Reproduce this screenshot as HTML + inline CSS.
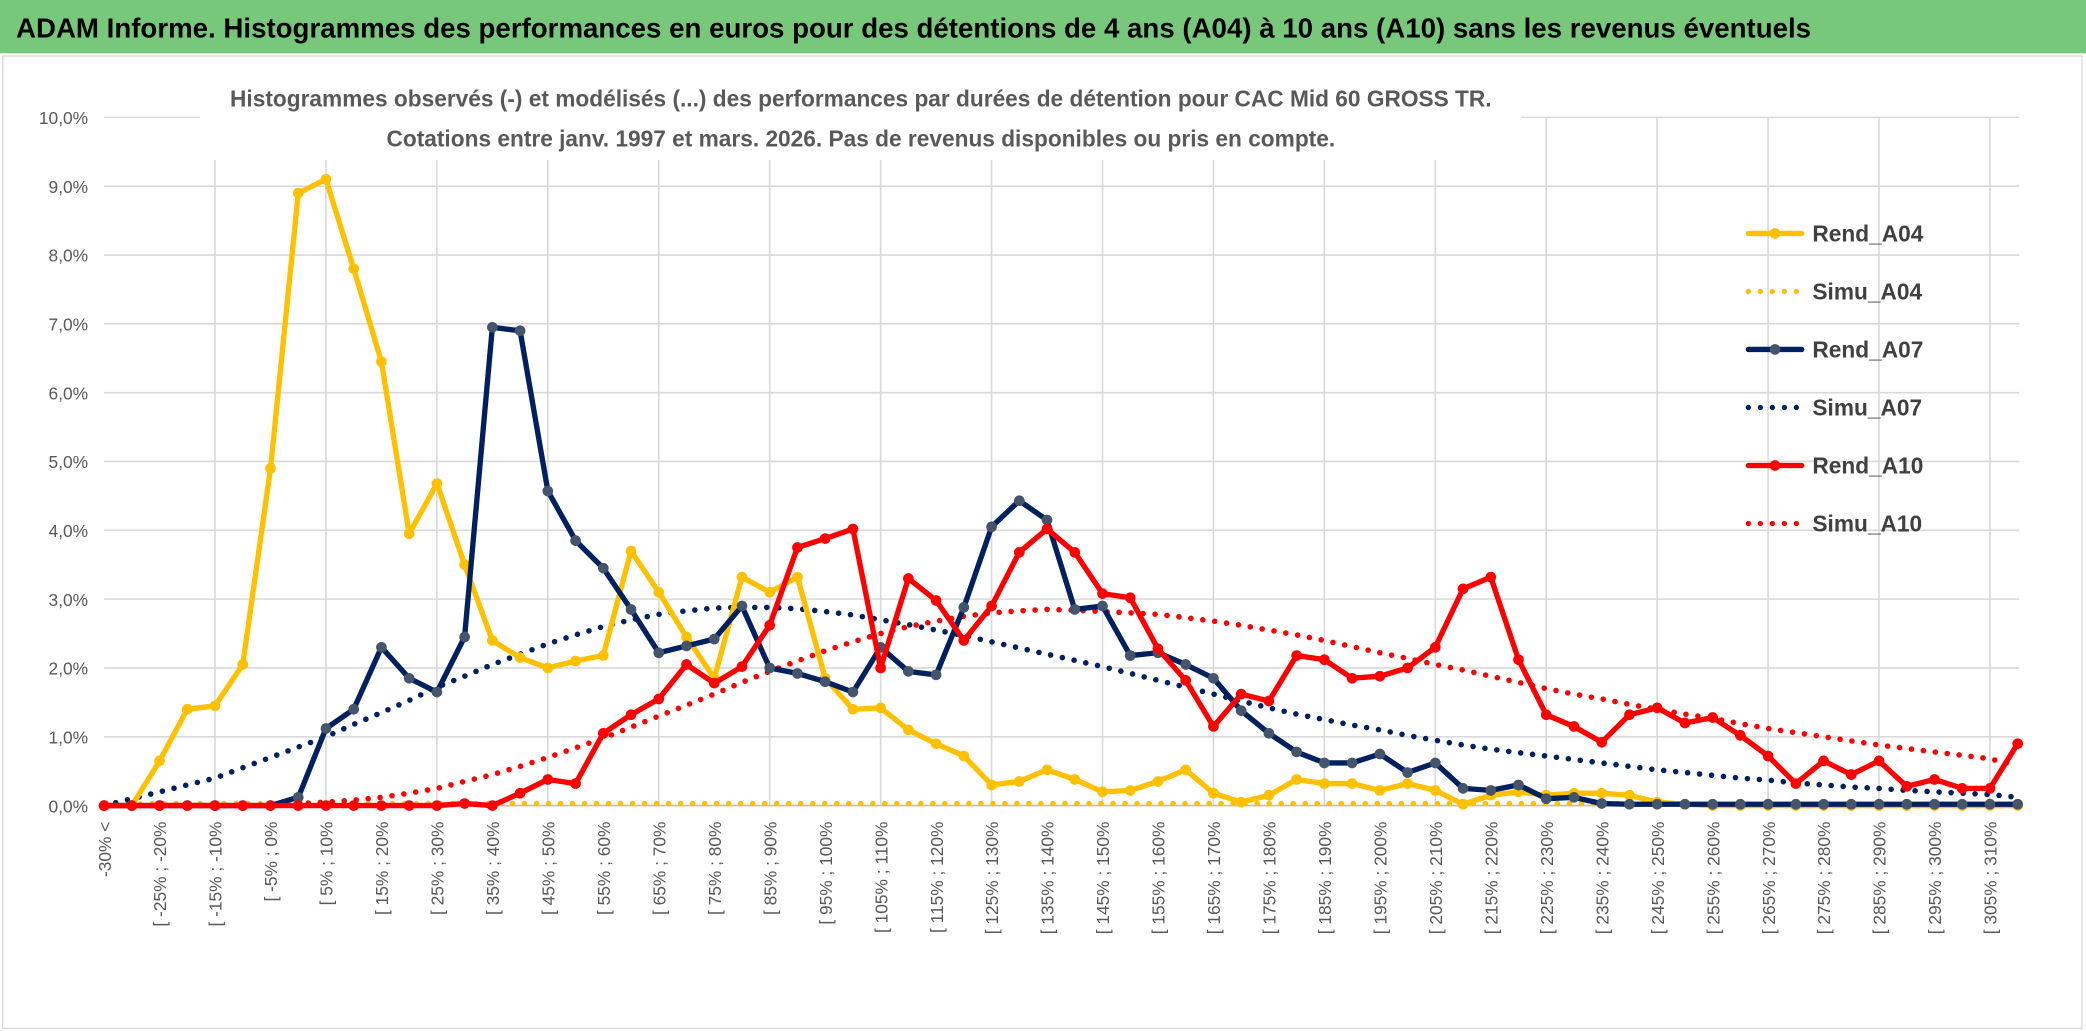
<!DOCTYPE html>
<html><head><meta charset="utf-8"><style>
html,body{margin:0;padding:0;background:#fff;overflow:hidden}
svg{display:block}
text{font-family:"Liberation Sans",sans-serif}
</style></head><body>
<svg id="chart" width="2086" height="1031" viewBox="0 0 1563 773" preserveAspectRatio="none" xmlns="http://www.w3.org/2000/svg">
<rect x="0" y="0" width="1563" height="40" fill="#78c87b"/>
<text x="12" y="28" font-size="21" font-weight="bold" fill="#000" textLength="1345" lengthAdjust="spacingAndGlyphs">ADAM Informe. Histogrammes des performances en euros pour des détentions de 4 ans (A04) à 10 ans (A10) sans les revenus éventuels</text>
<rect x="2" y="42" width="1558" height="729" fill="#fff" stroke="#d9d9d9"/>
<g id="grid"></g>
<g id="axes"></g>
<rect x="150" y="58" width="990" height="62" fill="#fff"/>
<text x="645" y="80" font-size="17" font-weight="bold" fill="#595959" text-anchor="middle">Histogrammes observés (-) et modélisés (...) des performances par durées de détention pour CAC Mid 60 GROSS TR.</text>
<text x="645" y="110" font-size="17" font-weight="bold" fill="#595959" text-anchor="middle">Cotations entre janv. 1997 et mars. 2026. Pas de revenus disponibles ou pris en compte.</text>
<g id="series"></g>
<g id="legend"></g>
</svg>
<script>
const categories = ["-30% <"];
for (let k = 1; k < 70; k++) { const a = -35 + 5*k; categories.push("[ " + a + "% ; " + (a+5) + "%"); }
const yTicks = [0,1,2,3,4,5,6,7,8,9,10];
const rendA04 = [0,0,0.65,1.4,1.45,2.05,4.9,8.9,9.1,7.8,6.45,3.95,4.68,3.5,2.4,2.15,2.0,2.1,2.18,3.7,3.1,2.45,1.85,3.32,3.1,3.32,1.85,1.4,1.42,1.1,0.9,0.72,0.3,0.35,0.52,0.38,0.2,0.22,0.35,0.52,0.18,0.05,0.15,0.38,0.32,0.32,0.22,0.32,0.22,0.02,0.15,0.2,0.15,0.18,0.18,0.15,0.05,0.02,0,0,0,0,0,0,0,0,0,0,0,0];
const simuA04 = [0,0.02,0.03,0.03,0.03,0.03,0.03,0.03,0.03,0.03,0.03,0.03,0.03,0.03,0.03,0.03,0.03,0.03,0.03,0.03,0.03,0.03,0.03,0.03,0.03,0.03,0.03,0.03,0.03,0.03,0.03,0.03,0.03,0.03,0.03,0.03,0.03,0.03,0.03,0.03,0.03,0.03,0.03,0.03,0.03,0.03,0.03,0.03,0.03,0.03,0.03,0.03,0.03,0.03,0.03,0.03,0.02,0.02,0.01,0,0,0,0,0,0,0,0,0,0,0];
const rendA07 = [0,0,0,0,0,0,0,0.12,1.12,1.4,2.3,1.85,1.65,2.45,6.95,6.9,4.57,3.85,3.45,2.85,2.22,2.32,2.42,2.9,2.0,1.92,1.8,1.65,2.3,1.95,1.9,2.88,4.05,4.43,4.15,2.85,2.9,2.18,2.22,2.05,1.85,1.38,1.05,0.78,0.62,0.62,0.75,0.48,0.62,0.25,0.22,0.3,0.1,0.12,0.03,0.02,0.02,0.02,0.02,0.02,0.02,0.02,0.02,0.02,0.02,0.02,0.02,0.02,0.02,0.02];
const simuA07 = [0,0.1,0.2,0.3,0.4,0.55,0.7,0.85,1.0,1.18,1.35,1.53,1.72,1.88,2.05,2.2,2.35,2.48,2.6,2.7,2.78,2.83,2.87,2.88,2.88,2.86,2.82,2.77,2.7,2.63,2.55,2.47,2.38,2.29,2.2,2.11,2.02,1.92,1.82,1.72,1.62,1.52,1.42,1.33,1.25,1.17,1.1,1.02,0.95,0.88,0.82,0.77,0.72,0.67,0.62,0.57,0.52,0.48,0.44,0.4,0.37,0.33,0.3,0.27,0.25,0.22,0.2,0.18,0.16,0.12];
const rendA10 = [0,0,0,0,0,0,0,0,0,0,0,0,0,0.03,0,0.18,0.38,0.32,1.05,1.32,1.55,2.05,1.78,2.02,2.62,3.75,3.88,4.02,2.0,3.3,2.98,2.4,2.9,3.68,4.02,3.68,3.08,3.02,2.28,1.82,1.15,1.62,1.52,2.18,2.12,1.85,1.88,2.0,2.3,3.15,3.32,2.12,1.32,1.15,0.92,1.32,1.42,1.2,1.28,1.02,0.72,0.32,0.65,0.45,0.65,0.28,0.38,0.25,0.25,0.9];
const simuA10 = [0,0,0,0,0,0,0.01,0.03,0.05,0.08,0.12,0.18,0.25,0.35,0.45,0.57,0.7,0.84,0.98,1.14,1.3,1.46,1.62,1.79,1.95,2.1,2.25,2.38,2.5,2.6,2.68,2.75,2.8,2.83,2.85,2.84,2.82,2.8,2.78,2.73,2.68,2.62,2.55,2.48,2.4,2.31,2.22,2.14,2.05,1.97,1.88,1.79,1.7,1.62,1.55,1.47,1.4,1.33,1.27,1.19,1.12,1.06,1.0,0.94,0.88,0.83,0.78,0.73,0.68,0.58];

const NS = "http://www.w3.org/2000/svg";
const X0 = 78, DX = 20.78, Y0 = 604, DY = 51.6;
function xScale(i){ return X0 + i*DX; }
function yScale(v){ return Y0 - v*DY; }
function mk(tag, attrs, parent){ const e = document.createElementNS(NS, tag); for (const k in attrs) e.setAttribute(k, attrs[k]); parent.appendChild(e); return e; }

const grid = document.getElementById('grid');
const axes = document.getElementById('axes');
yTicks.forEach(t => {
  const l = mk('line', {x1:X0, x2:1513, y1:yScale(t), y2:yScale(t), stroke:'#d9d9d9', 'stroke-width':1.2}, grid);
  
  
  const tx = mk('text', {x:66, y:yScale(t)+5, 'font-size':13, fill:'#595959', 'text-anchor':'end'}, axes);
  tx.textContent = t.toFixed(1).replace('.', ',') + '%';
  
  
});
for (let i = 4; i < categories.length; i += 4) {
  const l = mk('line', {x1:xScale(i), x2:xScale(i), y1:yScale(10), y2:Y0, stroke:'#d9d9d9', 'stroke-width':1.2}, grid);
  
  
}
const ax = mk('line', {x1:X0, x2:1513, y1:Y0, y2:Y0, stroke:'#bfbfbf', 'stroke-width':1.2}, axes);


categories.forEach((c, i) => {
  if (i % 2 !== 0) return;
  const x = xScale(i) + 5;
  const tx = mk('text', {x:x, y:616, 'font-size':13, fill:'#595959', 'text-anchor':'end', transform:'rotate(-90 '+x+' 616)'}, axes);
  tx.textContent = c;
  
  
});

const seriesG = document.getElementById('series');
function drawLine(vals, color, name, dotted, marker){
  const pts = vals.map((v,i) => xScale(i).toFixed(1)+','+yScale(v).toFixed(1)).join(' ');
  const attrs = {points:pts, fill:'none', stroke:color, 'stroke-width':dotted?4.2:4, 'stroke-linejoin':'round', 'stroke-linecap':'round'};
  if (dotted) attrs['stroke-dasharray'] = '0 9';
  const pl = mk('polyline', attrs, seriesG);
  
  
  if (marker) vals.forEach((v,i) => {
    const c = mk('circle', {cx:xScale(i), cy:yScale(v), r:4, fill:marker}, seriesG);
    
    
  });
}
drawLine(simuA04, '#ffc000', 'simu-a04', true, null);
drawLine(simuA07, '#002060', 'simu-a07', true, null);
drawLine(simuA10, '#ff0000', 'simu-a10', true, null);
drawLine(rendA04, '#ffc000', 'rend-a04', false, '#ffc000');
drawLine(rendA07, '#002060', 'rend-a07', false, '#44546a');
drawLine(rendA10, '#ff0000', 'rend-a10', false, '#ff0000');

const legend = document.getElementById('legend');
const legendItems = [["Rend_A04","#ffc000",false],["Simu_A04","#ffc000",true],["Rend_A07","#002060",false],["Simu_A07","#002060",true],["Rend_A10","#ff0000",false],["Simu_A10","#ff0000",true]];
legendItems.forEach((it, k) => {
  const y = 175 + k*43.5;
  const la = {x1:1310, x2:1350, y1:y, y2:y, stroke:it[1], 'stroke-width':4, 'stroke-linecap':'round'};
  if (it[2]) la['stroke-dasharray'] = '0 9';
  const l = mk('line', la, legend);
  
  
  if (!it[2]) { const c = mk('circle', {cx:1330, cy:y, r:4, fill: it[1]==='#002060'?'#44546a':it[1]}, legend);   }
  const t = mk('text', {x:1358, y:y+6, 'font-size':17, 'font-weight':'bold', fill:'#404040'}, legend);
  t.textContent = it[0];
  
  
});
</script>
</body></html>
